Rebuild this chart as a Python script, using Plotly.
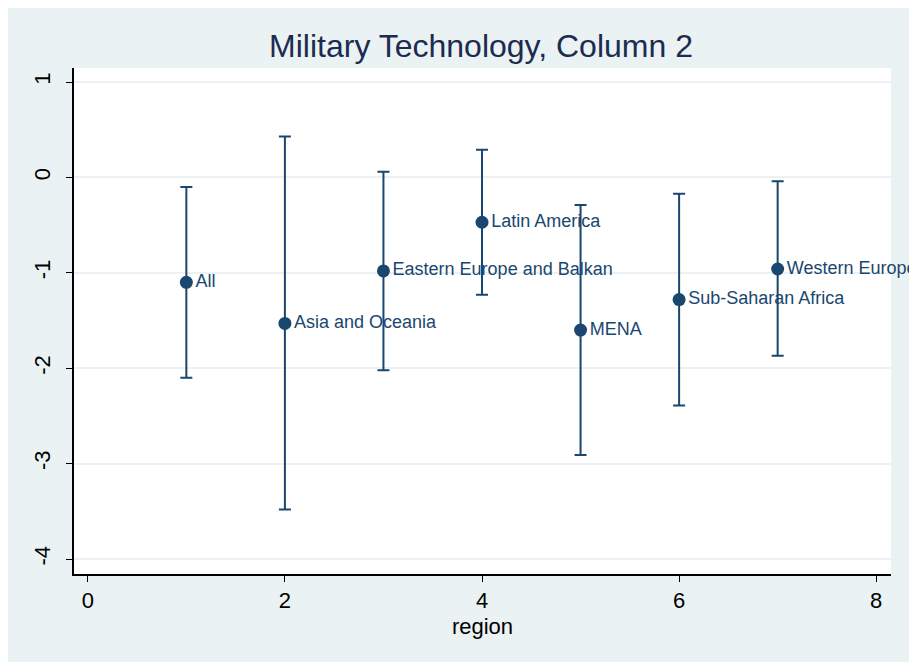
import plotly.graph_objects as go

regions = ["All", "Asia and Oceania", "Eastern Europe and Balkan", "Latin America",
           "MENA", "Sub-Saharan Africa", "Western Europe"]
region_x = [1, 2, 3, 4, 5, 6, 7]
coef = [-1.10, -1.53, -0.98, -0.47, -1.60, -1.28, -0.96]
ci_hi = [-0.10, 0.43, 0.06, 0.29, -0.29, -0.17, -0.04]
ci_lo = [-2.10, -3.48, -2.02, -1.23, -2.91, -2.39, -1.87]

x_ticks = [0, 2, 4, 6, 8]
y_ticks = [1, 0, -1, -2, -3, -4]

NAVY = "#1a476f"
BG = "#eaf2f3"
FONT = "Liberation Sans, Arial, Helvetica, sans-serif"

err_plus = [h - c for h, c in zip(ci_hi, coef)]
err_minus = [c - l for c, l in zip(coef, ci_lo)]

fig = go.Figure()
fig.add_trace(go.Scatter(
    x=region_x, y=coef, mode="markers+text",
    text=regions, textposition="middle right",
    textfont=dict(family=FONT, size=18, color=NAVY),
    marker=dict(size=13, color=NAVY),
    error_y=dict(type="data", symmetric=False, array=err_plus, arrayminus=err_minus,
                 color=NAVY, thickness=2, width=6),
    cliponaxis=False, showlegend=False,
))

# page renders with an 8px body offset; compensate
W, H = 917, 662
L, R, T, B = 66, 34, 60, 96

fig.update_layout(
    width=W, height=H,
    margin=dict(l=L, r=R, t=T, b=B),
    paper_bgcolor=BG, plot_bgcolor="white",
    font=dict(family=FONT, color="black"),
    title=dict(text="Military Technology, Column 2", x=(473 - L) / (W - L - R), xref="paper",
               xanchor="center", y=1 - 38 / H, yanchor="middle", yref="container",
               font=dict(family=FONT, size=32, color="#1c2b4f")),
    xaxis=dict(range=[-0.14, 8.15], tickvals=x_ticks, ticktext=[str(v) for v in x_ticks],
               showgrid=False, zeroline=False, showline=True, linecolor="black", linewidth=1.5,
               ticks="outside", ticklen=6, tickcolor="black", tickwidth=1.2,
               tickfont=dict(family=FONT, size=22, color="black"),
               title=dict(text="region", font=dict(family=FONT, size=22, color="black"), standoff=6)),
    yaxis=dict(range=[-4.157, 1.147], tickvals=y_ticks, ticktext=[str(v) for v in y_ticks],
               showgrid=True, gridcolor=BG, gridwidth=1.5, zeroline=False,
               showline=True, linecolor="black", linewidth=1.5,
               ticks="outside", ticklen=6, tickcolor="black", tickwidth=1.2,
               ticklabelstandoff=7,
               tickangle=-90, tickfont=dict(family=FONT, size=22, color="black")),
)

fig.write_html("out.html")
